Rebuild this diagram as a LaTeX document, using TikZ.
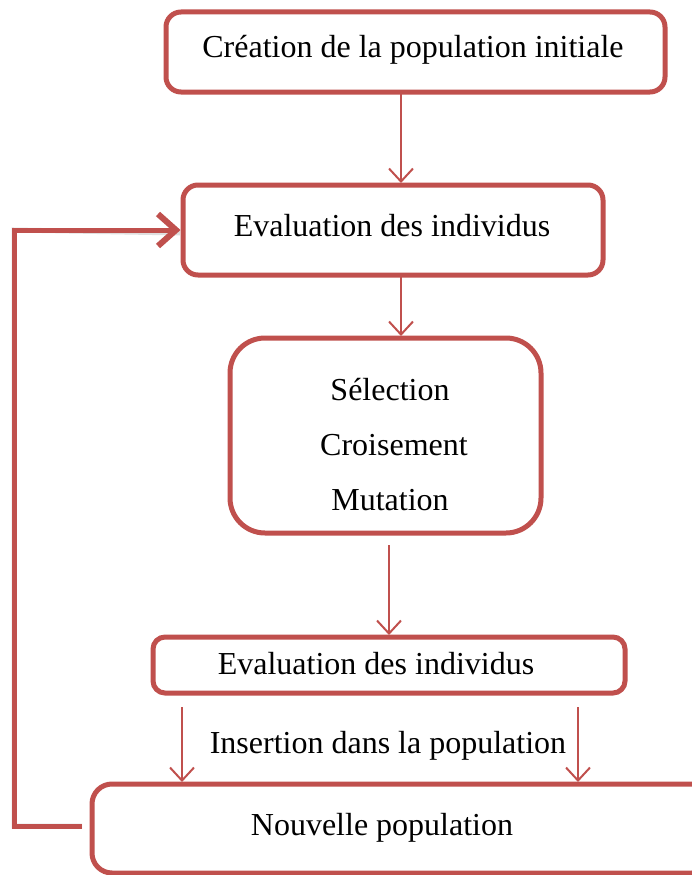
\documentclass[tikz,border=0pt]{standalone}
\usepackage{fontspec}
\setmainfont{Liberation Serif}
\usetikzlibrary{arrows.meta}
\definecolor{accent}{HTML}{C0504D}
\begin{document}
\begin{tikzpicture}[x=1pt,y=-1pt,
  box/.style={draw=accent, line width=5pt, fill=white, rounded corners=15pt, inner sep=0pt},
  lbl/.style={font=\fontsize{32}{38}\selectfont, inner sep=0pt},
  flow/.style={draw=accent, line width=2pt, -{Straight Barb[length=13pt,width=24pt,line width=2pt]}},
  loop/.style={draw=accent, line width=5pt, line join=miter},
]
\useasboundingbox (0,0) rectangle (691,875);

% boxes
\node[box, minimum width=499pt, minimum height=80pt] (b1) at (415.5,52) {};
\node[box, minimum width=420pt, minimum height=90pt] (b2) at (393,230) {};
\node[box, minimum width=311pt, minimum height=195pt, rounded corners=35pt] (b3) at (385.5,435.5) {};
\node[box, minimum width=472pt, minimum height=56pt, rounded corners=12pt] (b4) at (389,665) {};
\node[box, minimum width=620pt, minimum height=89pt, rounded corners=20pt] (b5) at (402,828.5) {};

% texts
\node[lbl] (t1) at (413,50) {Création de la population initiale};
\node[lbl] (t2) at (392,226) {Evaluation des individus};
\node[lbl] (t3a) at (390,390) {Sélection};
\node[lbl] (t3b) at (394,445) {Croisement};
\node[lbl] (t3c) at (390,500) {Mutation};
\node[lbl] (t4) at (376,664) {Evaluation des individus};
\node[lbl] (t5) at (388,746) {Insertion dans la population};
\node[lbl] (t6) at (382,828) {Nouvelle population};

% downward arrows
\draw[flow] (401,92) -- (401,183);
\draw[flow] (401,275) -- (401,336);
\coordinate (c3) at (389,545);
\draw[flow] (c3) -- (389,635);
\coordinate (s1) at (182,707);
\coordinate (s2) at (578,707);
\draw[flow] (s1) -- (182,782);
\draw[flow] (s2) -- (578,782);

% feedback loop
\coordinate (lb) at (82,826);
\coordinate (lc1) at (14,826);
\coordinate (lc2) at (14,230);
\draw[gray, opacity=0.25, line width=5pt, line join=miter, shift={(2pt,-3pt)}]
  (lb) -- (lc1) -- (lc2) -- (178,230);
\draw[loop, -{Straight Barb[length=18pt,width=32pt,line width=6pt]}]
  (lb) -- (lc1) -- (lc2) -- (b2.west);
\end{tikzpicture}
\end{document}
